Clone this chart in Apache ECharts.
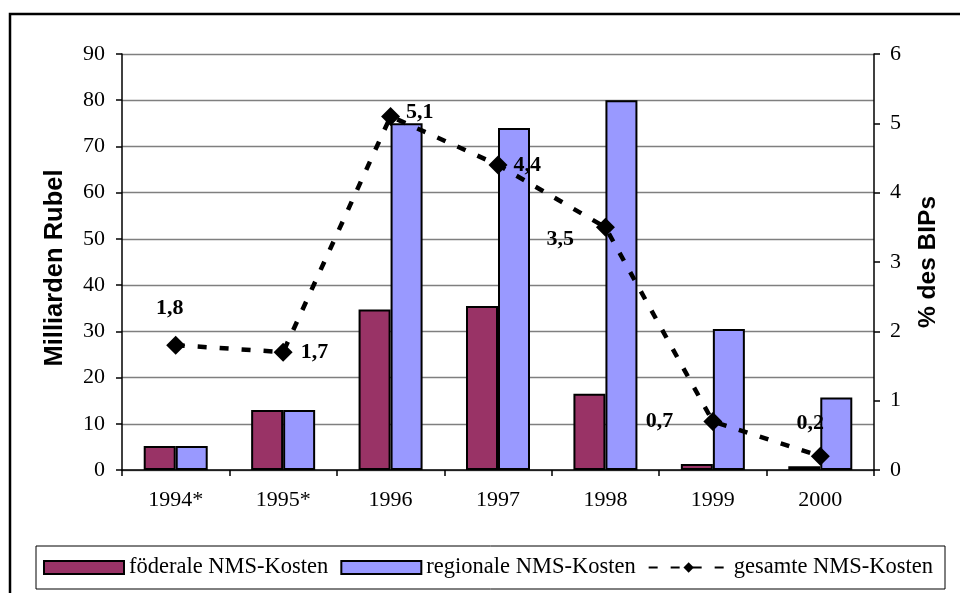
<!DOCTYPE html>
<html>
<head>
<meta charset="utf-8">
<script src="https://cdn.jsdelivr.net/npm/echarts@6/dist/echarts.min.js"></script>
<style>
  html, body { margin: 0; padding: 0; background: #fff; }
  #chart { width: 960px; height: 593px; }
</style>
</head>
<body>
<div id="chart"></div>
<script>
  const years = ['1994*', '1995*', '1996', '1997', '1998', '1999', '2000'];
  const federal = [5.2, 13.0, 34.7, 35.5, 16.5, 1.3, 0.8];
  const regional = [5.2, 13.0, 75.0, 74.0, 80.0, 30.5, 15.7];
  const totalPct = [1.8, 1.7, 5.1, 4.4, 3.5, 0.7, 0.2];
  // label placement for each point of the line
  const labelPos = [
    { position: 'top', distance: 16, offset: [-6, 0] },
    { position: 'right', distance: 8 },
    { position: 'right', distance: 6, offset: [0, -4] },
    { position: 'right', distance: 6 },
    { position: 'left', distance: 22, offset: [0, 12] },
    { position: 'left', distance: 30 },
    { position: 'top', distance: 12, offset: [-10, 0] }
  ];

  const serif = '"Liberation Serif", "Times New Roman", serif';
  const sans = '"Liberation Sans", Arial, sans-serif';

  const chart = echarts.init(document.getElementById('chart'), null, { renderer: 'canvas' });

  const option = {
    animation: false,
    backgroundColor: '#fff',
    graphic: [{
      type: 'rect',
      shape: { x: 10, y: 14, width: 1000, height: 1000 },
      style: { fill: 'none', stroke: '#000', lineWidth: 2.5 },
      z: 100
    }],
    grid: { left: 122, right: 86, top: 54, bottom: 123 },
    legend: {
      left: 36,
      top: 546,
      padding: [10, 12, 10, 7],
      itemGap: 12,
      itemWidth: 80,
      itemHeight: 13,
      borderColor: '#000',
      borderWidth: 1,
      textStyle: { fontFamily: serif, fontSize: 22.5, color: '#000' },
      data: [
        { name: 'föderale NMS-Kosten', icon: 'rect' },
        { name: 'regionale NMS-Kosten', icon: 'rect' },
        { name: 'gesamte NMS-Kosten' }
      ]
    },
    xAxis: {
      type: 'category',
      data: years,
      axisLine: { lineStyle: { color: '#000', width: 1.5 } },
      axisTick: { show: true, length: 6, lineStyle: { color: '#000', width: 1.5 } },
      axisLabel: { fontFamily: serif, fontSize: 22, color: '#000', margin: 19 }
    },
    yAxis: [{
      type: 'value',
      min: 0, max: 90, interval: 10,
      name: 'Milliarden Rubel',
      nameLocation: 'middle',
      nameGap: 54,
      nameRotate: 90,
      nameTextStyle: { fontFamily: sans, fontSize: 25.5, fontWeight: 'bold', color: '#000', padding: [0, 12, 0, 0] },
      axisLine: { show: true, lineStyle: { color: '#000', width: 1.5 } },
      axisTick: { show: true, length: 6, lineStyle: { color: '#000', width: 1.5 } },
      axisLabel: { fontFamily: serif, fontSize: 22, color: '#000', margin: 17 },
      splitLine: { lineStyle: { color: '#7f7f7f', width: 1.3 } }
    }, {
      type: 'value',
      min: 0, max: 6, interval: 1,
      name: '% des BIPs',
      nameLocation: 'middle',
      nameGap: 42,
      nameRotate: 90,
      nameTextStyle: { fontFamily: sans, fontSize: 24.5, fontWeight: 'bold', color: '#000' },
      axisLine: { show: true, lineStyle: { color: '#000', width: 1.5 } },
      axisTick: { show: true, length: 6, lineStyle: { color: '#000', width: 1.5 } },
      axisLabel: { fontFamily: serif, fontSize: 22, color: '#000', margin: 16 },
      splitLine: { show: false }
    }],
    series: [{
      name: 'föderale NMS-Kosten',
      type: 'bar',
      data: federal,
      barWidth: 32,
      barGap: '0%',
      itemStyle: { color: '#993366', borderColor: '#000', borderWidth: 2 }
    }, {
      name: 'regionale NMS-Kosten',
      type: 'bar',
      data: regional,
      barWidth: 32,
      barGap: '0%',
      itemStyle: { color: '#9999FF', borderColor: '#000', borderWidth: 2 }
    }, {
      name: 'gesamte NMS-Kosten',
      type: 'line',
      yAxisIndex: 1,
      data: totalPct.map((v, i) => ({ value: v, label: labelPos[i] })),
      symbol: 'diamond',
      symbolSize: 19,
      itemStyle: { color: '#000' },
      lineStyle: { color: '#000', width: 4.5, type: [9, 13] },
      label: {
        show: true,
        fontFamily: serif,
        fontSize: 22,
        fontWeight: 'bold',
        color: '#000',
        formatter: (p) => String(p.value).replace('.', ',')
      },
      z: 10
    }]
  };

  chart.setOption(option);
</script>
</body>
</html>
